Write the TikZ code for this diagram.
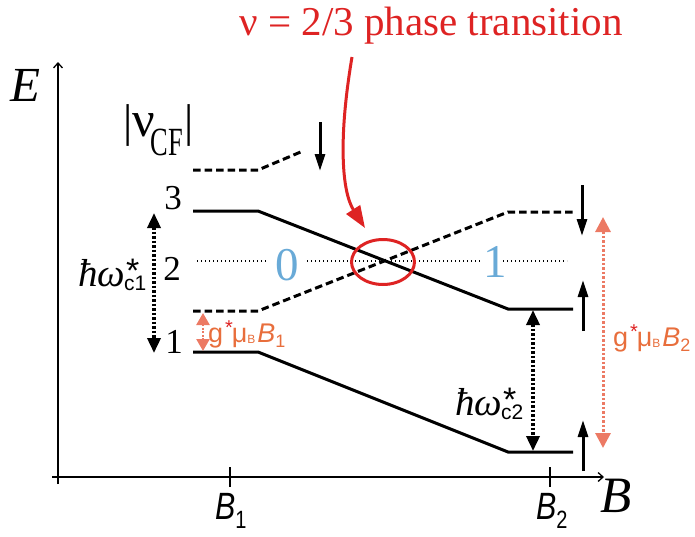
\documentclass[tikz,border=0pt]{standalone}
\usepackage{fontspec}
\setmainfont{Liberation Serif}
\setsansfont{Liberation Sans}
\usetikzlibrary{arrows.meta,shapes.geometric}
\definecolor{tred}{RGB}{222,35,35}
\definecolor{torange}{RGB}{232,110,60}
\definecolor{tsalmon}{RGB}{236,122,100}
\definecolor{tblue}{RGB}{105,170,215}
\newcommand{\fs}[1]{\fontsize{#1}{#1}\selectfont}
\newcommand{\hwlabel}[1]{{\fs{39}\itshape ħω}\makebox[0pt][l]{\kern1pt\raisebox{4pt}{\sffamily\fs{34}*}}\kern-1pt\raisebox{-4pt}{\sffamily\fs{21}#1}}
\newcommand{\gmulabel}[1]{{\sffamily\color{torange}\fs{27}g\kern2pt\textcolor{tred}{\raisebox{8pt}{\fs{20}*}}\kern-1pt μ\raisebox{-1pt}{\fs{12}B}\kern2pt\textit{B}\raisebox{-5pt}{\fs{18}#1}}}
\newcommand{\blabel}[1]{\scalebox{0.8}[1]{\sffamily\itshape\fs{38}B}\raisebox{-9pt}{\scalebox{0.8}[1]{\sffamily\fs{25}#1}}}
\begin{document}
\begin{tikzpicture}[x=1pt,y=-1pt,
  every node/.style={inner sep=0pt,outer sep=0pt},
  axisline/.style={line width=1.3pt},
  level/.style={line width=3pt},
  dlevel/.style={line width=3pt,dash pattern=on 7.5pt off 4pt},
  midline/.style={line width=1.3pt,dash pattern=on 1.3pt off 2.7pt},
  spin/.style={line width=3pt,-{Triangle[length=17pt,width=10pt]}},
  gap/.style={line width=3.5pt,dash pattern=on 2.5pt off 2pt,
     {Triangle[length=15pt,width=13pt]}-{Triangle[length=15pt,width=13pt]}},
  zgap/.style={tsalmon,line width=3pt,dash pattern=on 2.5pt off 2pt,
     {Triangle[length=15pt,width=15pt]}-{Triangle[length=15pt,width=15pt]}},
  numlbl/.style={anchor=base,font=\fs{35}},
  bluelbl/.style={anchor=base,font=\fs{47},text=tblue}]
\useasboundingbox (0,0) rectangle (695,536);

% axes
\coordinate (ybot) at (58,484); \coordinate (ytop) at (58,62);
\coordinate (xl) at (52,477); \coordinate (xr) at (604,477);
\draw[axisline,-{Straight Barb[length=5pt,width=9pt]}] (ybot) -- (ytop);
\draw[axisline,-{Straight Barb[length=5pt,width=9pt]}] (xl) -- (xr);
\coordinate (t1a) at (230,467); \coordinate (t1b) at (230,487);
\coordinate (t2a) at (550,467); \coordinate (t2b) at (550,487);
\draw[line width=1.8pt] (t1a) -- (t1b);
\draw[line width=1.8pt] (t2a) -- (t2b);

% axis labels
\node[anchor=base west,font=\fs{49}\itshape] (E) at (10,101) {E};
\node[anchor=base west,font=\fs{51}\itshape] (Bax) at (600,512) {B};
\node[anchor=base west] (B1) at (215,519) {\blabel{1}};
\node[anchor=base west] (B2) at (536,519) {\blabel{2}};

% level coordinates
\coordinate (Ta) at (193,170); \coordinate (Tb) at (258,170); \coordinate (Tc) at (303,151);
\coordinate (Sa) at (193,211); \coordinate (Sb) at (258,211); \coordinate (Sc) at (508,309); \coordinate (Sd) at (573,309);
\coordinate (Da) at (193,311); \coordinate (Db) at (258,311); \coordinate (Dc) at (508,212); \coordinate (Dd) at (573,212);
\coordinate (La) at (193,352); \coordinate (Lb) at (258,352); \coordinate (Lc) at (508,452); \coordinate (Ld) at (573,452);
\draw[dlevel] (Ta) -- (Tb) -- (Tc);
\draw[level] (Sa) -- (Sb) -- (Sc) -- (Sd);
\draw[dlevel] (Da) -- (Db) -- (Dc) -- (Dd);
\draw[level] (La) -- (Lb) -- (Lc) -- (Ld);

% level 2 dotted line with labels
\node[bluelbl] (zero) at (287,280) {0};
\node[bluelbl] (one) at (495,277) {1};
\coordinate (Ma) at (197,261); \coordinate (Mb) at (266,261);
\coordinate (Mc) at (307,261); \coordinate (Md) at (482,261);
\coordinate (Me) at (503,261); \coordinate (Mf) at (567,261);
\draw[midline] (Ma) -- (Mb);
\draw[midline] (Mc) -- (Md);
\draw[midline] (Me) -- (Mf);

% level numbers
\node[anchor=base west] (nu) at (123,136) {{\fs{46}|}{\fs{50}ν}\kern-4pt\raisebox{-19pt}{\scalebox{0.66}[1]{\fs{40}CF}}\kern1pt{\fs{46}|}};
\node[numlbl] (n3) at (173,209) {3};
\node[numlbl] (n2) at (172,280) {2};
\node[numlbl] (n1) at (174,353) {1};

% spin arrows
\coordinate (s1a) at (320,122); \coordinate (s1b) at (320,171);
\coordinate (s2a) at (582,185); \coordinate (s2b) at (582,236);
\coordinate (s3a) at (583,331); \coordinate (s3b) at (583,280);
\coordinate (s4a) at (583,471); \coordinate (s4b) at (583,420);
\draw[spin] (s1a) -- (s1b);
\draw[spin] (s2a) -- (s2b);
\draw[spin] (s3a) -- (s3b);
\draw[spin] (s4a) -- (s4b);

% gaps
\coordinate (g1a) at (154,213); \coordinate (g1b) at (154,353);
\coordinate (g2a) at (533,310); \coordinate (g2b) at (533,451);
\draw[gap] (g1a) -- (g1b);
\draw[gap] (g2a) -- (g2b);
\node[anchor=base west] (hw1) at (78,286) {\hwlabel{c1}};
\node[anchor=base west] (hw2) at (455,415) {\hwlabel{c2}};

\coordinate (z1a) at (203,313); \coordinate (z1b) at (203,351);
\draw[tsalmon,line width=2.5pt,dash pattern=on 2pt off 1.5pt,
  {Triangle[length=12pt,width=13pt]}-{Triangle[length=12pt,width=13pt]}] (z1a) -- (z1b);
\coordinate (z2a) at (603,217); \coordinate (z2b) at (603,448);
\draw[zgap] (z2a) -- (z2b);
\node[anchor=base west] (gm1) at (208,342) {\gmulabel{1}};
\node[anchor=base west] (gm2) at (613,346) {\gmulabel{2}};

% transition
\node[anchor=base,font=\fs{41},text=tred] (title) at (431,35) {ν = 2/3 phase transition};
\node[draw=tred,line width=3pt,ellipse,minimum width=63pt,minimum height=45pt] (ring) at (383,262) {};
\coordinate (ca) at (352,57); \coordinate (cb) at (365,228);
\draw[tred,line width=3pt,-{Triangle[length=22pt,width=16pt]}] (ca) .. controls (338,140) and (342,192) .. (cb);
\end{tikzpicture}
\end{document}
